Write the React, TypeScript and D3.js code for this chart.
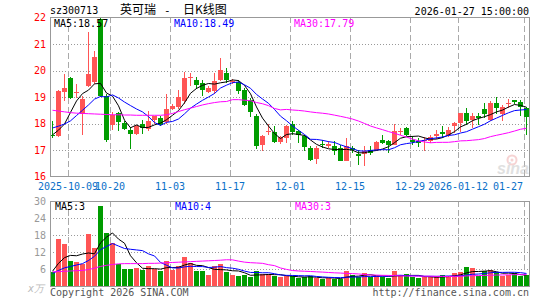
import React from "react";
import * as d3 from "d3";

const tickerCode = "sz300713";
const titleName = "英可瑞";
const titleSuffix = "日K线图";
const timestamp = "2026-01-27 15:00:00";

const opens = [17.56, 17.53, 19.18, 19.72, 19.14, 18.35, 19.42, 19.58, 21.95, 19.03,
  17.95, 18.40, 18.02, 17.76, 17.62, 17.99, 17.78, 18.12, 18.21, 18.05,
  18.56, 18.64, 18.85, 19.70, 19.63, 19.51, 19.19, 19.23, 19.63, 19.89,
  19.56, 19.57, 19.25, 18.87, 18.30, 17.20, 17.67, 17.68, 17.29, 17.46,
  17.99, 17.71, 17.52, 17.08, 16.67, 17.22, 17.14, 17.14, 17.08, 16.60,
  17.06, 16.85, 16.85, 17.01, 16.99, 17.39, 17.35, 17.20, 17.71, 17.84,
  17.38, 17.35, 17.33, 17.33, 17.54, 17.67, 17.58, 17.90, 18.03, 18.38,
  18.15, 18.28, 18.56, 18.15, 18.78, 18.37, 18.72, 18.87, 18.82, 18.57];
const highs = [18.10, 19.25, 19.85, 19.75, 19.48, 19.02, 21.46, 20.72, 22.00, 19.10,
  18.42, 18.45, 18.11, 17.85, 17.95, 18.12, 18.48, 18.30, 18.30, 19.10,
  18.75, 19.25, 19.95, 19.91, 19.76, 19.63, 19.40, 19.92, 20.49, 20.09,
  19.68, 19.63, 19.33, 18.97, 18.37, 17.58, 17.99, 17.90, 17.52, 17.96,
  18.09, 17.77, 17.58, 17.14, 17.14, 17.39, 17.35, 17.33, 17.20, 17.46,
  17.14, 17.01, 17.14, 17.14, 17.33, 17.56, 17.39, 17.99, 17.84, 17.87,
  17.51, 17.45, 17.50, 17.58, 17.75, 17.90, 17.86, 18.06, 18.41, 18.60,
  18.41, 18.38, 18.78, 18.84, 19.00, 18.70, 18.91, 18.88, 18.87, 18.62];
const lows = [17.47, 17.48, 18.86, 18.92, 18.95, 17.56, 19.38, 19.50, 19.00, 17.30,
  17.75, 17.72, 17.75, 17.05, 17.58, 17.62, 17.72, 18.00, 17.92, 17.98,
  18.50, 18.55, 18.72, 19.42, 19.29, 19.04, 19.15, 19.13, 19.61, 19.54,
  19.48, 19.10, 18.66, 18.24, 17.05, 16.95, 17.58, 17.27, 17.22, 17.27,
  17.58, 17.27, 16.95, 16.57, 16.47, 17.08, 17.08, 16.82, 16.57, 16.57,
  16.90, 16.44, 16.38, 16.80, 16.95, 17.22, 16.89, 17.18, 17.58, 17.52,
  17.20, 17.10, 16.98, 17.27, 17.42, 17.46, 17.50, 17.65, 17.68, 17.96,
  17.84, 17.96, 18.22, 18.09, 18.34, 18.11, 18.60, 18.75, 18.28, 17.58];
const closes = [17.53, 19.22, 19.34, 18.96, 19.20, 18.92, 19.88, 20.52, 19.05, 17.38,
  18.33, 18.06, 17.80, 17.62, 17.92, 17.82, 18.11, 18.27, 17.96, 18.55,
  18.66, 19.00, 19.73, 19.76, 19.46, 19.25, 19.35, 19.61, 20.01, 19.63,
  19.62, 19.23, 18.70, 18.43, 17.14, 17.52, 17.73, 17.29, 17.48, 17.90,
  17.68, 17.58, 17.10, 16.63, 17.08, 17.18, 17.24, 16.97, 16.60, 17.14,
  17.00, 16.76, 16.97, 16.89, 17.29, 17.27, 17.20, 17.73, 17.73, 17.58,
  17.32, 17.27, 17.39, 17.48, 17.60, 17.60, 17.77, 18.01, 18.38, 18.09,
  18.28, 18.19, 18.34, 18.78, 18.60, 18.62, 18.76, 18.82, 18.62, 18.25];
const volumes = [4.9, 16.5, 14.8, 8.7, 8.5, 7.9, 18.4, 13.3, 28.1, 18.6,
  15.2, 7.6, 6.0, 6.0, 6.2, 5.5, 6.9, 6.0, 5.2, 8.7,
  5.8, 7.2, 10.1, 8.0, 5.3, 5.3, 3.8, 6.9, 7.6, 4.8,
  3.8, 3.4, 3.8, 3.1, 5.3, 4.1, 4.1, 3.4, 3.1, 3.5,
  3.4, 2.8, 3.1, 3.4, 2.8, 2.4, 2.8, 2.6, 2.6, 5.2,
  3.8, 3.2, 4.5, 3.2, 3.4, 3.2, 2.8, 5.2, 3.4, 4.1,
  3.2, 2.8, 3.1, 3.1, 3.2, 3.8, 3.4, 4.5, 4.8, 6.6,
  6.2, 3.5, 5.2, 5.5, 4.8, 3.5, 3.8, 4.5, 3.5, 3.8];

// moving-average values before enough in-window data exist
const priceMa5Head = [17.57, 17.75, 17.98, 18.42];
const priceMa10Head = [17.83, 17.9, 17.98, 18.1, 18.3, 18.5, 18.7, 18.92, 19.02];
const priceMa30Head = [18.50, 18.47, 18.44, 18.41, 18.39, 18.38, 18.37, 18.36, 18.35, 18.34,
  18.33, 18.33, 18.32, 18.32, 18.31, 18.31, 18.31, 18.31, 18.31, 18.33,
  18.38, 18.45, 18.52, 18.58, 18.64, 18.70, 18.75, 18.79, 18.82];
const volMa5Head = [5.2, 8.0, 10.0, 10.8];
const volMa10Head = [4.4, 5.5, 6.4, 6.9, 7.4, 7.9, 9.0, 10.5, 12.8];
const volMa30Head = [5.0, 5.1, 5.2, 5.3, 5.4, 5.5, 5.8, 6.3, 6.9, 7.3,
  7.6, 7.8, 7.9, 7.9, 7.9, 7.9, 8.0, 8.0, 8.1, 8.2,
  8.3, 8.4, 8.5, 8.6, 8.7, 8.8, 8.9, 9.0, 9.1];

const priceTicks = [16, 17, 18, 19, 20, 21, 22];
const priceGrid = [17, 18, 19, 20, 21];
const volTicks = [6, 12, 18, 24, 30];
const volGrid = [6, 12, 18, 24];
const xTickIndex = [3, 10, 20, 30, 40, 50, 60, 68, 79];
const xTickLabels = ["2025-10-09", "10-20", "11-03", "11-17", "12-01", "12-15", "12-29", "2026-01-12", "01-27"];
const priceMaLabels = ["MA5:18.57", "MA10:18.49", "MA30:17.79"];
const volMaLabels = ["MA5:3", "MA10:4", "MA30:3"];
const volUnit = "x万";
const copyright = "Copyright 2026 SINA.COM";
const siteUrl = "http://finance.sina.com.cn";

const RED = "#ff5555";
const GREEN = "#009c00";
const MA_COLORS = ["#000000", "#0000ff", "#ff00ff"];
const MONO = "'DejaVu Sans Mono', monospace";

function movingAvg(values: number[], n: number, head: number[]): number[] {
  return values.map((_, i) =>
    i < n - 1 ? head[i] : (d3.mean(values.slice(i - n + 1, i + 1)) as number)
  );
}

export default function App() {
  const N = closes.length;
  const left = 50;
  const right = 529;
  const x = d3.scaleBand<number>().domain(d3.range(N)).range([left, left + 6 * N]).padding(0);
  const bw = x.bandwidth() - 1;
  const yP = d3.scaleLinear().domain([16, 22]).range([176.5, 17.5]);
  const yV = d3.scaleLinear().domain([0, 30]).range([286, 201]);

  const pMa = [
    movingAvg(closes, 5, priceMa5Head),
    movingAvg(closes, 10, priceMa10Head),
    movingAvg(closes, 30, priceMa30Head),
  ];
  const vMa = [
    movingAvg(volumes, 5, volMa5Head),
    movingAvg(volumes, 10, volMa10Head),
    movingAvg(volumes, 30, volMa30Head),
  ];
  const cx = (i: number) => (x(i) as number) + bw / 2;
  const lineP = d3.line<number>().x((_, i) => cx(i)).y((d) => yP(d));
  const lineV = d3.line<number>().x((_, i) => cx(i)).y((d) => yV(d));

  const maLabelX = [54, 174, 294];

  return (
    <svg width={545} height={300} style={{ position: "absolute", left: 0, top: 0, background: "#fff" }}
      fontFamily={MONO} fontSize={10}>
      {/* header */}
      <text x={50} y={14} fill="#000">{tickerCode}</text>
      <text x={120} y={14} fontFamily="'Noto Sans CJK SC', sans-serif" fontSize={12} fill="#000">{titleName}</text>
      <text x={164} y={14} fontSize={11} fill="#000">-</text>
      <text x={183} y={14} fontFamily="'Noto Sans CJK SC', sans-serif" fontSize={12} fill="#000">{titleSuffix}</text>
      <text x={right} y={15} textAnchor="end" fill="#000">{timestamp}</text>

      {/* grid */}
      <g shapeRendering="crispEdges">
        {priceGrid.map((p) => (
          <line key={"pg" + p} x1={left} x2={right} y1={Math.round(yP(p)) + 0.5} y2={Math.round(yP(p)) + 0.5}
            stroke="#999" strokeDasharray="1,2" />
        ))}
        {volGrid.map((v) => (
          <line key={"vg" + v} x1={left} x2={right} y1={Math.round(yV(v)) + 0.5} y2={Math.round(yV(v)) + 0.5}
            stroke="#999" strokeDasharray="1,2" />
        ))}
        {xTickIndex.map((idx) => (
          <g key={"xg" + idx}>
            <line x1={(x(idx) as number) + 0.5} x2={(x(idx) as number) + 0.5} y1={17} y2={176}
              stroke="#aaa" strokeDasharray="6,3" />
            <line x1={(x(idx) as number) + 0.5} x2={(x(idx) as number) + 0.5} y1={201} y2={286}
              stroke="#aaa" strokeDasharray="6,3" />
          </g>
        ))}
      </g>

      {/* watermark */}
      <g opacity={0.55}>
        <circle cx={512} cy={160} r={4.5} fill="none" stroke="#f0b0b0" strokeWidth={2} />
        <circle cx={512} cy={160} r={1.5} fill="#f0b0b0" />
        <text x={497} y={174} fontFamily="'Liberation Sans', sans-serif" fontStyle="italic" fontWeight="bold"
          fontSize={16} fill="#c8c8c8">sina</text>
      </g>

      {/* candles and volume bars */}
      <g shapeRendering="crispEdges">
        {closes.map((c, i) => {
          const o = opens[i];
          const up = c >= o;
          const col = up ? RED : GREEN;
          const xi = x(i) as number;
          const top = Math.round(yP(Math.max(o, c)));
          const bot = Math.round(yP(Math.min(o, c)));
          const h = Math.max(1, bot - top);
          return (
            <g key={"c" + i}>
              <line x1={xi + 2.5} x2={xi + 2.5} y1={Math.round(yP(highs[i]))} y2={Math.round(yP(lows[i]))}
                stroke={col} strokeWidth={1} />
              <rect x={xi} y={top} width={bw} height={h} fill={col} />
            </g>
          );
        })}
        {volumes.map((v, i) => {
          const up = closes[i] >= opens[i];
          const xi = x(i) as number;
          const top = Math.round(yV(v));
          return <rect key={"v" + i} x={xi} y={top} width={bw} height={286 - top} fill={up ? RED : GREEN} />;
        })}
      </g>

      {/* moving averages */}
      {pMa.map((arr, k) => (
        <path key={"pm" + k} d={lineP(arr) as string} fill="none" stroke={MA_COLORS[k]} strokeWidth={1} />
      ))}
      {vMa.map((arr, k) => (
        <path key={"vm" + k} d={lineV(arr) as string} fill="none" stroke={MA_COLORS[k]} strokeWidth={1} />
      ))}

      {/* frames */}
      <g shapeRendering="crispEdges" fill="none" stroke="#999">
        <rect x={left + 0.5} y={17.5} width={right - left} height={159} />
        <rect x={left + 0.5} y={201.5} width={right - left} height={85} />
      </g>

      {/* MA labels */}
      {priceMaLabels.map((t, k) => (
        <text key={"pl" + k} x={maLabelX[k]} y={27} fill={MA_COLORS[k]}>{t}</text>
      ))}
      {volMaLabels.map((t, k) => (
        <text key={"vl" + k} x={maLabelX[k] + 1} y={210} fill={MA_COLORS[k]}>{t}</text>
      ))}

      {/* price axis */}
      {priceTicks.map((p) => (
        <text key={"pt" + p} x={46} y={yP(p)} dy="0.35em" textAnchor="end" fill="#ff0000">{p}</text>
      ))}
      {/* volume axis */}
      {volTicks.map((v) => (
        <text key={"vt" + v} x={46} y={yV(v)} dy="0.35em" textAnchor="end" fill="#999">{v}</text>
      ))}
      <text x={28} y={292} fill="#bbb" fontStyle="italic">{volUnit}</text>

      {/* x axis labels */}
      {xTickIndex.map((idx, k) => {
        const isLast = k === xTickIndex.length - 1;
        return (
          <text key={"xl" + idx} x={isLast ? 523 : (x(idx) as number)} y={190}
            textAnchor={isLast ? "end" : "middle"} fill="#0a70c8">{xTickLabels[k]}</text>
        );
      })}

      {/* footer */}
      <text x={50} y={296} fill="#555">{copyright}</text>
      <text x={right} y={296} textAnchor="end" fill="#555">{siteUrl}</text>
    </svg>
  );
}
